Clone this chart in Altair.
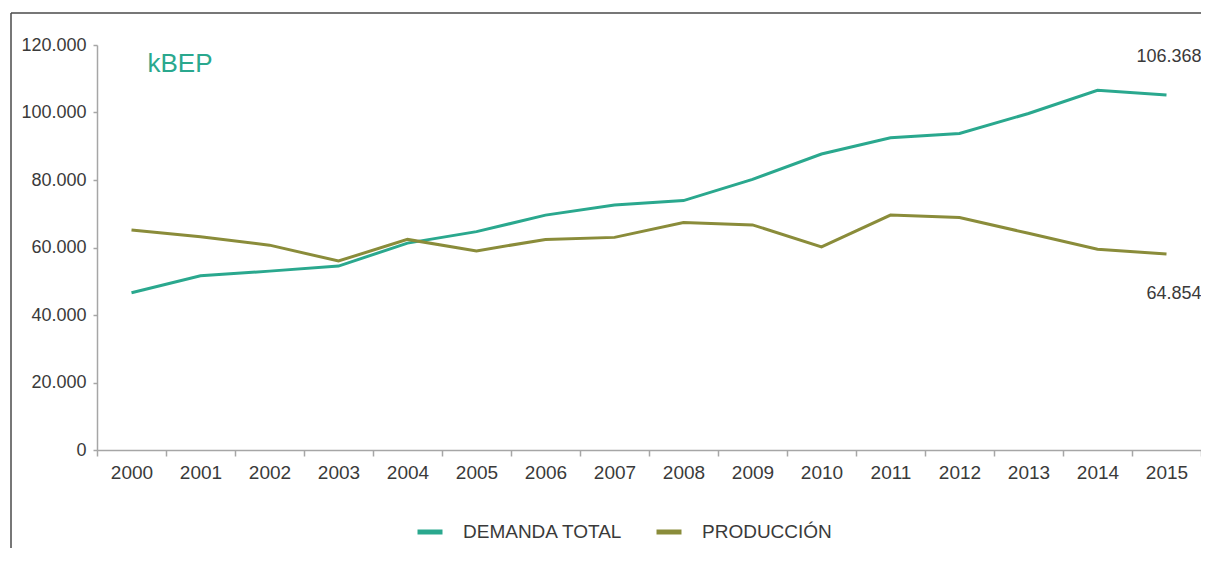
import altair as alt
import pandas as pd

years = [str(y) for y in range(2000, 2016)]
demanda = [46600, 51600, 53000, 54500, 61300, 64700, 69600, 72600,
           73900, 80200, 87700, 92500, 93800, 99700, 106600, 105200]
produccion = [65200, 63200, 60700, 56000, 62400, 59000, 62400, 63000,
              67400, 66700, 60200, 69600, 68900, 64200, 59500, 58100]
series = ["DEMANDA TOTAL", "PRODUCCIÓN"]
colors = ["#2aa88e", "#8a8c3a"]
end_labels = ["106.368", "64.854"]
y_ticks = [0, 20000, 40000, 60000, 80000, 100000, 120000]

rows = []
for i, y in enumerate(years):
    rows.append({"year": y, "serie": series[0], "value": demanda[i]})
    rows.append({"year": y, "serie": series[1], "value": produccion[i]})
df = pd.DataFrame(rows)

ann = pd.DataFrame({
    "year": [years[-1], years[-1]],
    "serie": series,
    "value": [demanda[-1], produccion[-1]],
    "label": end_labels,
})

FONT = "Liberation Sans"
TXT = "#3a3a3a"
AX = "#a6a6a6"

x_enc = alt.X("year:O", bandPosition=0.5,
              scale=alt.Scale(type="band", paddingInner=0, paddingOuter=0),
              axis=alt.Axis(title=None, labelAngle=0, tickBand="extent",
                            grid=False,
                            domainColor=AX, tickColor=AX, domainWidth=1.5,
                            tickWidth=1.5, tickSize=6, labelPadding=7,
                            labelFontSize=19, labelColor=TXT, labelFont=FONT))
y_enc = alt.Y("value:Q",
              scale=alt.Scale(domain=[0, 120000], nice=False),
              axis=alt.Axis(title="kBEP", values=y_ticks, grid=False,
                            labelExpr="replace(format(datum.value, ','), ',', '.')",
                            domainColor=AX, tickColor=AX, domainWidth=1.5,
                            tickWidth=1.5, tickSize=4, labelPadding=7,
                            labelFontSize=18, labelColor=TXT, labelFont=FONT,
                            titleAngle=0, titleX=50, titleY=18,
                            titleAlign="left", titleBaseline="middle",
                            titleColor=colors[0], titleFontSize=26,
                            titleFont=FONT, titleFontWeight="normal"))

lines = alt.Chart(df).mark_line(strokeWidth=3).encode(
    x=x_enc,
    y=y_enc,
    color=alt.Color("serie:N",
                    scale=alt.Scale(domain=series, range=colors),
                    legend=alt.Legend(title=None, orient="none",
                                      direction="horizontal",
                                      legendX=318, legendY=472,
                                      symbolType="stroke", symbolSize=625,
                                      symbolStrokeWidth=5, labelOffset=18,
                                      columnPadding=23, padding=0,
                                      labelFontSize=19, labelColor=TXT,
                                      labelFont=FONT)),
)

labels_top = alt.Chart(ann).transform_filter(
    alt.datum.serie == series[0]
).mark_text(align="right", baseline="middle", dx=35, dy=-38,
            fontSize=18, font=FONT, color=TXT).encode(
    x=x_enc, y=y_enc, text="label:N")

labels_bot = alt.Chart(ann).transform_filter(
    alt.datum.serie == series[1]
).mark_text(align="right", baseline="middle", dx=35, dy=40,
            fontSize=18, font=FONT, color=TXT).encode(
    x=x_enc, y=y_enc, text="label:N")

frame_df = pd.DataFrame({"a": [0]})
frame_top = alt.Chart(frame_df).mark_rule(color="#4a4a4a", strokeWidth=1.5).encode(
    x=alt.value(-86), x2=alt.value(1104), y=alt.value(-32))
frame_left = alt.Chart(frame_df).mark_rule(color="#4a4a4a", strokeWidth=1.5).encode(
    x=alt.value(-86), y=alt.value(-32), y2=alt.value(520))

chart = alt.layer(frame_top, frame_left, lines, labels_top, labels_bot).properties(
    width=1104, height=405,
    padding={"left": 89, "top": 37, "right": 0, "bottom": 98},
    autosize=alt.AutoSizeParams(type="none"),
    background="white",
    view=alt.ViewBackground(stroke="transparent", strokeWidth=0),
).configure_view(strokeWidth=0, stroke="transparent")

chart.save("out.html", embed_options={"renderer": "svg", "actions": False})
